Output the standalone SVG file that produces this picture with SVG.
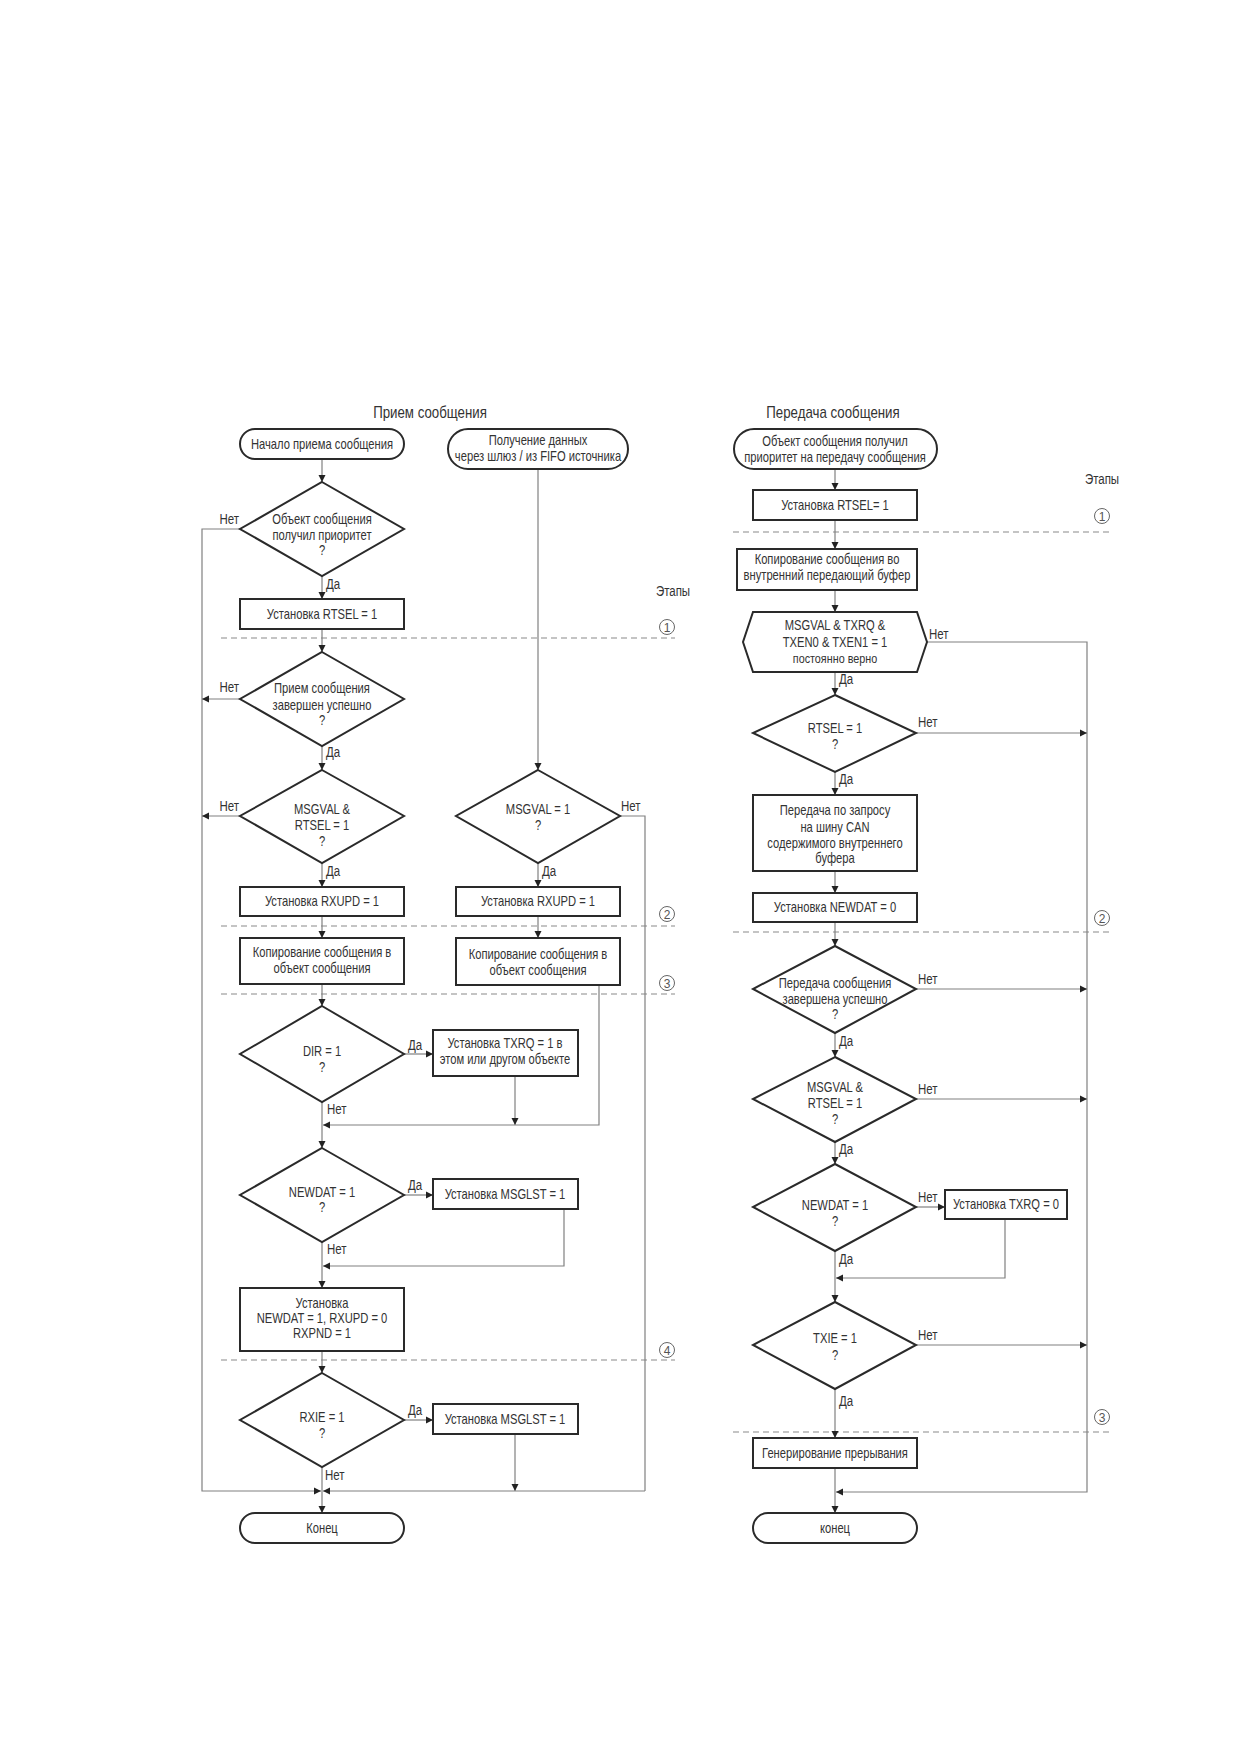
<svg xmlns="http://www.w3.org/2000/svg" width="1240" height="1754" viewBox="0 0 1240 1754">
<style>
text{font-family:"Liberation Sans",Arial,sans-serif;font-size:14px;fill:#333;text-anchor:middle}
.t{font-size:16px}
.sm{font-size:13.5px}
.l{text-anchor:start}
.e{text-anchor:end}
.n rect,.n polygon{fill:#fff;stroke:#2a2a2a;stroke-width:2}
.c path{fill:none;stroke:#808080;stroke-width:1.2}
.d{stroke:#8a8a8a;stroke-width:1.2;stroke-dasharray:6 4;fill:none}
.s circle{fill:#fff;stroke:#666;stroke-width:1}
.s .num{font-size:12px;fill:#555}
</style>
<defs>
<marker id="a" markerUnits="userSpaceOnUse" markerWidth="8" markerHeight="8" refX="7" refY="4" orient="auto"><path d="M0,0.5 L7,4 L0,7.5 z" fill="#222"/></marker>
</defs>

<!-- stage lines -->
<g id="stages" class="s">
<path class="d" d="M221,638 H675 M221,926 H675 M221,994 H675 M221,1360 H675"/>
<path class="d" d="M733,532 H1112 M733,932 H1112 M733,1432 H1112"/>
<text transform="translate(673,596) scale(.82,1)">Этапы</text>
<text transform="translate(1102,484) scale(.82,1)">Этапы</text>
<circle cx="667" cy="627" r="7.5"/><text class="num" x="667" y="631.5">1</text>
<circle cx="667" cy="914" r="7.5"/><text class="num" x="667" y="918.5">2</text>
<circle cx="667" cy="983" r="7.5"/><text class="num" x="667" y="987.5">3</text>
<circle cx="667" cy="1350" r="7.5"/><text class="num" x="667" y="1354.5">4</text>
<circle cx="1102" cy="516" r="7.5"/><text class="num" x="1102" y="520.5">1</text>
<circle cx="1102" cy="918" r="7.5"/><text class="num" x="1102" y="922.5">2</text>
<circle cx="1102" cy="1417" r="7.5"/><text class="num" x="1102" y="1421.5">3</text>
</g>

<text class="t" transform="translate(430,418) scale(.83,1)">Прием сообщения</text>
<text class="t" transform="translate(833,418) scale(.83,1)">Передача сообщения</text>

<!-- connectors -->
<g id="connectors" class="c">
<path d="M322,459 V482" marker-end="url(#a)"/>
<path d="M240,529 H202 V1491 H321" marker-end="url(#a)"/>
<path d="M322,576 V599" marker-end="url(#a)"/>
<path d="M322,629 V652" marker-end="url(#a)"/>
<path d="M240,699 H202" marker-end="url(#a)"/>
<path d="M322,746 V770" marker-end="url(#a)"/>
<path d="M240,816 H202" marker-end="url(#a)"/>
<path d="M322,863 V887" marker-end="url(#a)"/>
<path d="M322,916 V938" marker-end="url(#a)"/>
<path d="M322,984 V1006" marker-end="url(#a)"/>
<path d="M404,1054 H433" marker-end="url(#a)"/>
<path d="M515,1076 V1125" marker-end="url(#a)"/>
<path d="M599,985 V1125 H323" marker-end="url(#a)"/>
<path d="M322,1102 V1148" marker-end="url(#a)"/>
<path d="M404,1195 H433" marker-end="url(#a)"/>
<path d="M564,1209 V1266 H323" marker-end="url(#a)"/>
<path d="M322,1242 V1288" marker-end="url(#a)"/>
<path d="M322,1351 V1373" marker-end="url(#a)"/>
<path d="M404,1420 H433" marker-end="url(#a)"/>
<path d="M515,1434 V1491" marker-end="url(#a)"/>
<path d="M322,1467 V1513" marker-end="url(#a)"/>
<path d="M645,1491 H323" marker-end="url(#a)"/>
<path d="M538,469 V770" marker-end="url(#a)"/>
<path d="M620,816 H645 V1491"/>
<path d="M538,863 V887" marker-end="url(#a)"/>
<path d="M538,916 V938" marker-end="url(#a)"/>

<path d="M835,469 V490" marker-end="url(#a)"/>
<path d="M835,520 V549" marker-end="url(#a)"/>
<path d="M835,590 V612" marker-end="url(#a)"/>
<path d="M835,672 V695" marker-end="url(#a)"/>
<path d="M835,772 V795" marker-end="url(#a)"/>
<path d="M835,871 V893" marker-end="url(#a)"/>
<path d="M835,922 V946" marker-end="url(#a)"/>
<path d="M835,1033 V1057" marker-end="url(#a)"/>
<path d="M835,1142 V1164" marker-end="url(#a)"/>
<path d="M835,1251 V1302" marker-end="url(#a)"/>
<path d="M835,1389 V1438" marker-end="url(#a)"/>
<path d="M835,1468 V1513" marker-end="url(#a)"/>
<path d="M927,642 H1087 V1492 H836" marker-end="url(#a)"/>
<path d="M916,733 H1087" marker-end="url(#a)"/>
<path d="M916,989 H1087" marker-end="url(#a)"/>
<path d="M916,1099 H1087" marker-end="url(#a)"/>
<path d="M916,1345 H1087" marker-end="url(#a)"/>
<path d="M916,1207 H945" marker-end="url(#a)"/>
<path d="M1005,1219 V1278 H836" marker-end="url(#a)"/>
</g>

<!-- connector labels -->
<g id="labels">
<text class="e" transform="translate(239,524) scale(.82,1)">Нет</text>
<text class="l" transform="translate(326,589) scale(.82,1)">Да</text>
<text class="e" transform="translate(239,692) scale(.82,1)">Нет</text>
<text class="l" transform="translate(326,757) scale(.82,1)">Да</text>
<text class="e" transform="translate(239,811) scale(.82,1)">Нет</text>
<text class="l" transform="translate(326,876) scale(.82,1)">Да</text>
<text class="l" transform="translate(621,811) scale(.82,1)">Нет</text>
<text class="l" transform="translate(542,876) scale(.82,1)">Да</text>
<text class="l" transform="translate(408,1050) scale(.82,1)">Да</text>
<text class="l" transform="translate(327,1114) scale(.82,1)">Нет</text>
<text class="l" transform="translate(408,1190) scale(.82,1)">Да</text>
<text class="l" transform="translate(327,1254) scale(.82,1)">Нет</text>
<text class="l" transform="translate(408,1415) scale(.82,1)">Да</text>
<text class="l" transform="translate(325,1480) scale(.82,1)">Нет</text>

<text class="l" transform="translate(929,639) scale(.82,1)">Нет</text>
<text class="l" transform="translate(839,684) scale(.82,1)">Да</text>
<text class="l" transform="translate(918,727) scale(.82,1)">Нет</text>
<text class="l" transform="translate(839,784) scale(.82,1)">Да</text>
<text class="l" transform="translate(918,984) scale(.82,1)">Нет</text>
<text class="l" transform="translate(839,1046) scale(.82,1)">Да</text>
<text class="l" transform="translate(918,1094) scale(.82,1)">Нет</text>
<text class="l" transform="translate(839,1154) scale(.82,1)">Да</text>
<text class="l" transform="translate(918,1202) scale(.82,1)">Нет</text>
<text class="l" transform="translate(839,1264) scale(.82,1)">Да</text>
<text class="l" transform="translate(918,1340) scale(.82,1)">Нет</text>
<text class="l" transform="translate(839,1406) scale(.82,1)">Да</text>
</g>

<!-- left nodes -->
<g id="rx_start" class="n"><rect x="240" y="429" width="164" height="30" rx="15"/><text transform="translate(322,449) scale(.8,1)">Начало приема сообщения</text></g>
<g id="rx_fifo" class="n"><rect x="448" y="429" width="180" height="40" rx="20"/><text transform="translate(538,445) scale(.8,1)">Получение данных</text><text transform="translate(538,461) scale(.8,1)">через шлюз / из FIFO источника</text></g>
<g id="rx_d1" class="n"><polygon points="322,482 404,529 322,576 240,529"/><text transform="translate(322,524) scale(.8,1)">Объект сообщения</text><text transform="translate(322,540) scale(.8,1)">получил приоритет</text><text transform="translate(322,555) scale(.8,1)">?</text></g>
<g id="rx_rtsel" class="n"><rect x="240" y="599" width="164" height="30"/><text transform="translate(322,619) scale(.8,1)">Установка RTSEL = 1</text></g>
<g id="rx_d2" class="n"><polygon points="322,652 404,699 322,746 240,699"/><text transform="translate(322,693) scale(.8,1)">Прием сообщения</text><text transform="translate(322,710) scale(.8,1)">завершен успешно</text><text transform="translate(322,725) scale(.8,1)">?</text></g>
<g id="rx_d3" class="n"><polygon points="322,770 404,816 322,863 240,816"/><text transform="translate(322,814) scale(.8,1)">MSGVAL &amp;</text><text transform="translate(322,830) scale(.8,1)">RTSEL = 1</text><text transform="translate(322,846) scale(.8,1)">?</text></g>
<g id="rx_d3b" class="n"><polygon points="538,770 620,816 538,863 456,816"/><text transform="translate(538,814) scale(.8,1)">MSGVAL = 1</text><text transform="translate(538,830) scale(.8,1)">?</text></g>
<g id="rx_rxupd1" class="n"><rect x="240" y="887" width="164" height="29"/><text transform="translate(322,906) scale(.8,1)">Установка RXUPD = 1</text></g>
<g id="rx_rxupd2" class="n"><rect x="456" y="887" width="164" height="29"/><text transform="translate(538,906) scale(.8,1)">Установка RXUPD = 1</text></g>
<g id="rx_copy1" class="n"><rect x="240" y="938" width="164" height="46"/><text transform="translate(322,957) scale(.8,1)">Копирование сообщения в</text><text transform="translate(322,973) scale(.8,1)">объект сообщения</text></g>
<g id="rx_copy2" class="n"><rect x="456" y="938" width="164" height="47"/><text transform="translate(538,959) scale(.8,1)">Копирование сообщения в</text><text transform="translate(538,975) scale(.8,1)">объект сообщения</text></g>
<g id="rx_dir" class="n"><polygon points="322,1006 404,1054 322,1102 240,1054"/><text transform="translate(322,1056) scale(.8,1)">DIR = 1</text><text transform="translate(322,1072) scale(.8,1)">?</text></g>
<g id="rx_txrq" class="n"><rect x="433" y="1030" width="145" height="46"/><text transform="translate(505,1048) scale(.8,1)">Установка TXRQ = 1 в</text><text transform="translate(505,1064) scale(.8,1)">этом или другом объекте</text></g>
<g id="rx_newdat" class="n"><polygon points="322,1148 404,1195 322,1242 240,1195"/><text transform="translate(322,1197) scale(.8,1)">NEWDAT = 1</text><text transform="translate(322,1212) scale(.8,1)">?</text></g>
<g id="rx_msglst1" class="n"><rect x="433" y="1179" width="145" height="30"/><text transform="translate(505,1199) scale(.8,1)">Установка MSGLST = 1</text></g>
<g id="rx_set" class="n"><rect x="240" y="1288" width="164" height="63"/><text transform="translate(322,1308) scale(.8,1)">Установка</text><text transform="translate(322,1323) scale(.8,1)">NEWDAT = 1, RXUPD = 0</text><text transform="translate(322,1338) scale(.8,1)">RXPND = 1</text></g>
<g id="rx_rxie" class="n"><polygon points="322,1373 404,1420 322,1467 240,1420"/><text transform="translate(322,1422) scale(.8,1)">RXIE = 1</text><text transform="translate(322,1438) scale(.8,1)">?</text></g>
<g id="rx_msglst2" class="n"><rect x="433" y="1404" width="145" height="30"/><text transform="translate(505,1424) scale(.8,1)">Установка MSGLST = 1</text></g>
<g id="rx_end" class="n"><rect x="240" y="1513" width="164" height="30" rx="15"/><text transform="translate(322,1533) scale(.8,1)">Конец</text></g>

<!-- right nodes -->
<g id="tx_start" class="n"><rect x="734" y="429" width="203" height="40" rx="20"/><text transform="translate(835,446) scale(.8,1)">Объект сообщения получил</text><text transform="translate(835,462) scale(.8,1)">приоритет на передачу сообщения</text></g>
<g id="tx_rtsel" class="n"><rect x="753" y="490" width="164" height="30"/><text transform="translate(835,510) scale(.8,1)">Установка RTSEL= 1</text></g>
<g id="tx_copy" class="n"><rect x="737" y="549" width="180" height="41"/><text transform="translate(827,564) scale(.8,1)">Копирование сообщения во</text><text transform="translate(827,580) scale(.8,1)">внутренний передающий буфер</text></g>
<g id="tx_hex" class="n"><polygon points="753,612 917,612 927,642 917,672 753,672 743,642"/><text transform="translate(835,630) scale(.8,1)">MSGVAL &amp; TXRQ &amp;</text><text transform="translate(835,647) scale(.8,1)">TXEN0 &amp; TXEN1 = 1</text><text class="sm" transform="translate(835,663) scale(.8,1)">постоянно верно</text></g>
<g id="tx_rtseld" class="n"><polygon points="835,695 916,733 835,772 753,733"/><text transform="translate(835,733) scale(.8,1)">RTSEL = 1</text><text transform="translate(835,749) scale(.8,1)">?</text></g>
<g id="tx_send" class="n"><rect x="753" y="795" width="164" height="76"/><text transform="translate(835,815) scale(.8,1)">Передача по запросу</text><text transform="translate(835,832) scale(.8,1)">на шину CAN</text><text transform="translate(835,848) scale(.8,1)">содержимого внутреннего</text><text transform="translate(835,863) scale(.8,1)">буфера</text></g>
<g id="tx_newdat0" class="n"><rect x="753" y="893" width="164" height="29"/><text transform="translate(835,912) scale(.8,1)">Установка NEWDAT = 0</text></g>
<g id="tx_ok" class="n"><polygon points="835,946 916,989 835,1033 753,989"/><text transform="translate(835,988) scale(.8,1)">Передача сообщения</text><text transform="translate(835,1004) scale(.8,1)">завершена успешно</text><text transform="translate(835,1019) scale(.8,1)">?</text></g>
<g id="tx_msgval" class="n"><polygon points="835,1057 916,1099 835,1142 753,1099"/><text transform="translate(835,1092) scale(.8,1)">MSGVAL &amp;</text><text transform="translate(835,1108) scale(.8,1)">RTSEL = 1</text><text transform="translate(835,1124) scale(.8,1)">?</text></g>
<g id="tx_newdat" class="n"><polygon points="835,1164 916,1207 835,1251 753,1207"/><text transform="translate(835,1210) scale(.8,1)">NEWDAT = 1</text><text transform="translate(835,1226) scale(.8,1)">?</text></g>
<g id="tx_txrq0" class="n"><rect x="945" y="1190" width="122" height="29"/><text transform="translate(1006,1209) scale(.8,1)">Установка TXRQ = 0</text></g>
<g id="tx_txie" class="n"><polygon points="835,1302 916,1345 835,1389 753,1345"/><text transform="translate(835,1343) scale(.8,1)">TXIE = 1</text><text transform="translate(835,1360) scale(.8,1)">?</text></g>
<g id="tx_int" class="n"><rect x="753" y="1438" width="164" height="30"/><text transform="translate(835,1458) scale(.8,1)">Генерирование прерывания</text></g>
<g id="tx_end" class="n"><rect x="753" y="1513" width="164" height="30" rx="15"/><text transform="translate(835,1533) scale(.8,1)">конец</text></g>
</svg>
